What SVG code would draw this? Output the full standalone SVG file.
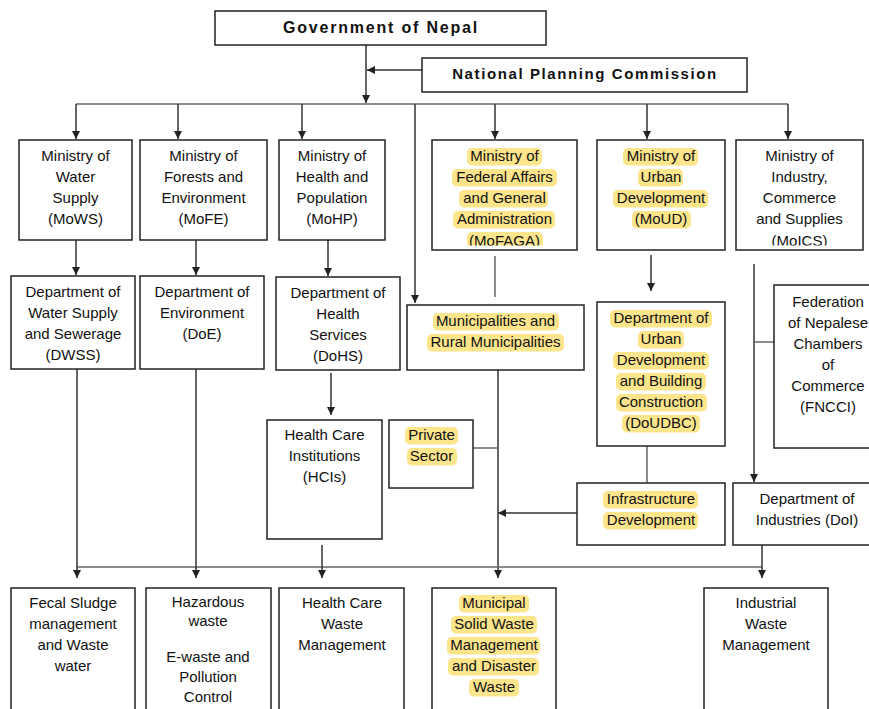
<svg xmlns="http://www.w3.org/2000/svg" width="869" height="709" viewBox="0 0 869 709">
<style>
.box{fill:#fff;stroke:#222;stroke-width:1.5}
.t{font-family:"Liberation Sans",Arial,sans-serif;font-size:15px;fill:#111;text-anchor:middle}
.b{font-family:"Liberation Sans",Arial,sans-serif;font-weight:bold;fill:#111;text-anchor:middle}
.hl{fill:#fde58c}
.c{stroke:#333;stroke-width:1.5;fill:none}
.g{stroke:#666;stroke-width:1.5;fill:none}
</style>
<defs>
<marker id="ah" viewBox="0 0 10 10" refX="10" refY="5" markerWidth="8" markerHeight="8" markerUnits="userSpaceOnUse" orient="auto"><path d="M0,0 L10,5 L0,10 z" fill="#222"/></marker>
<clipPath id="clipA"><rect x="432" y="140" width="145" height="105.5"/></clipPath>
<clipPath id="clipB"><rect x="736" y="140" width="127" height="105.5"/></clipPath>
</defs>
<rect width="869" height="709" fill="#fff"/>

<g id="connectors">
<line class="c" x1="366" y1="45" x2="366" y2="103" marker-end="url(#ah)"/>
<line class="c" x1="422" y1="70" x2="367" y2="70" marker-end="url(#ah)"/>
<line class="g" x1="76" y1="104" x2="788" y2="104"/>
<line class="c" x1="76" y1="104" x2="76" y2="139" marker-end="url(#ah)"/>
<line class="c" x1="178" y1="104" x2="178" y2="139" marker-end="url(#ah)"/>
<line class="c" x1="302" y1="104" x2="302" y2="139" marker-end="url(#ah)"/>
<line class="c" x1="495" y1="104" x2="495" y2="139" marker-end="url(#ah)"/>
<line class="c" x1="647" y1="104" x2="647" y2="139" marker-end="url(#ah)"/>
<line class="c" x1="788" y1="104" x2="788" y2="139" marker-end="url(#ah)"/>
<line class="c" x1="415" y1="104" x2="415" y2="303" marker-end="url(#ah)"/>
<line class="c" x1="76" y1="240" x2="76" y2="275" marker-end="url(#ah)"/>
<line class="c" x1="196" y1="240" x2="196" y2="275" marker-end="url(#ah)"/>
<line class="c" x1="328" y1="240" x2="328" y2="276" marker-end="url(#ah)"/>
<line class="g" x1="495" y1="256" x2="495" y2="297"/>
<line class="c" x1="651" y1="255" x2="651" y2="291" marker-end="url(#ah)"/>
<line class="c" x1="754" y1="264" x2="754" y2="482" marker-end="url(#ah)"/>
<line class="g" x1="754" y1="342" x2="774" y2="342"/>
<line class="c" x1="331" y1="373" x2="331" y2="415" marker-end="url(#ah)"/>
<line class="c" x1="498" y1="370" x2="498" y2="578" marker-end="url(#ah)"/>
<line class="g" x1="473" y1="448" x2="498" y2="448"/>
<line class="g" x1="647" y1="446" x2="647" y2="483"/>
<line class="c" x1="577" y1="513" x2="498" y2="513" marker-end="url(#ah)"/>
<line class="g" x1="77" y1="567" x2="762" y2="567"/>
<line class="c" x1="77" y1="369" x2="77" y2="578" marker-end="url(#ah)"/>
<line class="c" x1="196" y1="369" x2="196" y2="578" marker-end="url(#ah)"/>
<line class="c" x1="322" y1="545" x2="322" y2="578" marker-end="url(#ah)"/>
<line class="c" x1="762" y1="545" x2="762" y2="578" marker-end="url(#ah)"/>
</g>

<g id="gov">
<rect class="box" x="215" y="11" width="331" height="34"/>
<text class="b" x="381" y="33" font-size="16" letter-spacing="1.8">Government of Nepal</text>
</g>
<g id="npc">
<rect class="box" x="422" y="58" width="325" height="34"/>
<text class="b" x="585" y="79" font-size="15" letter-spacing="1.6">National Planning Commission</text>
</g>

<g id="mows">
<rect class="box" x="19" y="140" width="113" height="100"/>
<text class="t" x="75.5" y="161">Ministry of</text>
<text class="t" x="75.5" y="182">Water</text>
<text class="t" x="75.5" y="203">Supply</text>
<text class="t" x="75.5" y="224">(MoWS)</text>
</g>
<g id="mofe">
<rect class="box" x="140" y="140" width="127" height="100"/>
<text class="t" x="203.5" y="161">Ministry of</text>
<text class="t" x="203.5" y="182">Forests and</text>
<text class="t" x="203.5" y="203">Environment</text>
<text class="t" x="203.5" y="224">(MoFE)</text>
</g>
<g id="mohp">
<rect class="box" x="279" y="140" width="106" height="100"/>
<text class="t" x="332" y="161">Ministry of</text>
<text class="t" x="332" y="182">Health and</text>
<text class="t" x="332" y="203">Population</text>
<text class="t" x="332" y="224">(MoHP)</text>
</g>
<g id="mofaga">
<rect class="box" x="432" y="140" width="145" height="110"/>
<g clip-path="url(#clipA)">
<rect class="hl" x="467" y="148" width="75" height="17.5" rx="5"/>
<rect class="hl" x="452" y="169" width="105" height="17.5" rx="5"/>
<rect class="hl" x="459" y="190" width="89" height="17.5" rx="5"/>
<rect class="hl" x="453" y="211" width="102" height="17.5" rx="5"/>
<rect class="hl" x="467" y="232" width="76" height="17.5" rx="5"/>
<text class="t" x="504.5" y="161">Ministry of</text>
<text class="t" x="504.5" y="182">Federal Affairs</text>
<text class="t" x="504.5" y="203">and General</text>
<text class="t" x="504.5" y="224">Administration</text>
<text class="t" x="504.5" y="246">(MoFAGA)</text>
</g>
</g>
<g id="moud">
<rect class="box" x="597" y="140" width="128" height="110"/>
<rect class="hl" x="623" y="148" width="75" height="17.5" rx="5"/>
<rect class="hl" x="638" y="169" width="45" height="17.5" rx="5"/>
<rect class="hl" x="613" y="190" width="95" height="17.5" rx="5"/>
<rect class="hl" x="632" y="211" width="59" height="17.5" rx="5"/>
<text class="t" x="661" y="161">Ministry of</text>
<text class="t" x="661" y="182">Urban</text>
<text class="t" x="661" y="203">Development</text>
<text class="t" x="661" y="224">(MoUD)</text>
</g>
<g id="moics">
<rect class="box" x="736" y="140" width="127" height="110"/>
<g clip-path="url(#clipB)">
<text class="t" x="799.5" y="161">Ministry of</text>
<text class="t" x="799.5" y="182">Industry,</text>
<text class="t" x="799.5" y="203">Commerce</text>
<text class="t" x="799.5" y="224">and Supplies</text>
<text class="t" x="799.5" y="246">(MoICS)</text>
</g>
</g>

<g id="dwss">
<rect class="box" x="11" y="276" width="124" height="93"/>
<text class="t" x="73" y="297">Department of</text>
<text class="t" x="73" y="318">Water Supply</text>
<text class="t" x="73" y="339">and Sewerage</text>
<text class="t" x="73" y="360">(DWSS)</text>
</g>
<g id="doe">
<rect class="box" x="140" y="276" width="124" height="93"/>
<text class="t" x="202" y="297">Department of</text>
<text class="t" x="202" y="318">Environment</text>
<text class="t" x="202" y="339">(DoE)</text>
</g>
<g id="dohs">
<rect class="box" x="276" y="277" width="124" height="93"/>
<text class="t" x="338" y="298">Department of</text>
<text class="t" x="338" y="319">Health</text>
<text class="t" x="338" y="340">Services</text>
<text class="t" x="338" y="361">(DoHS)</text>
</g>
<g id="municipalities">
<rect class="box" x="407" y="305" width="177" height="65"/>
<rect class="hl" x="433" y="313" width="126" height="17.5" rx="5"/>
<rect class="hl" x="427" y="334" width="137" height="17.5" rx="5"/>
<text class="t" x="495.5" y="326">Municipalities and</text>
<text class="t" x="495.5" y="347">Rural Municipalities</text>
</g>
<g id="doudbc">
<rect class="box" x="597" y="302" width="128" height="144"/>
<rect class="hl" x="610" y="310" width="102" height="17.5" rx="5"/>
<rect class="hl" x="638" y="331" width="46" height="17.5" rx="5"/>
<rect class="hl" x="613" y="352" width="96" height="17.5" rx="5"/>
<rect class="hl" x="616" y="373" width="90" height="17.5" rx="5"/>
<rect class="hl" x="616" y="394" width="91" height="17.5" rx="5"/>
<rect class="hl" x="622" y="415" width="78" height="17.5" rx="5"/>
<text class="t" x="661" y="323">Department of</text>
<text class="t" x="661" y="344">Urban</text>
<text class="t" x="661" y="365">Development</text>
<text class="t" x="661" y="386">and Building</text>
<text class="t" x="661" y="407">Construction</text>
<text class="t" x="661" y="428">(DoUDBC)</text>
</g>
<g id="fncci">
<rect class="box" x="774" y="285" width="110" height="163"/>
<text class="t" x="828" y="307">Federation</text>
<text class="t" x="828" y="328">of Nepalese</text>
<text class="t" x="828" y="349">Chambers</text>
<text class="t" x="828" y="370">of</text>
<text class="t" x="828" y="391">Commerce</text>
<text class="t" x="828" y="412">(FNCCI)</text>
</g>
<g id="hcis">
<rect class="box" x="267" y="420" width="115" height="119"/>
<text class="t" x="324.5" y="440">Health Care</text>
<text class="t" x="324.5" y="461">Institutions</text>
<text class="t" x="324.5" y="482">(HCIs)</text>
</g>
<g id="private">
<rect class="box" x="389" y="420" width="84" height="68"/>
<rect class="hl" x="405" y="427" width="53" height="17.5" rx="5"/>
<rect class="hl" x="407" y="448" width="50" height="17.5" rx="5"/>
<text class="t" x="431.5" y="440">Private</text>
<text class="t" x="431.5" y="461">Sector</text>
</g>
<g id="infra">
<rect class="box" x="577" y="483" width="148" height="62"/>
<rect class="hl" x="603" y="491" width="95" height="17.5" rx="5"/>
<rect class="hl" x="603" y="512" width="95" height="17.5" rx="5"/>
<text class="t" x="651" y="504">Infrastructure</text>
<text class="t" x="651" y="525">Development</text>
</g>
<g id="doi">
<rect class="box" x="733" y="483" width="150" height="62"/>
<text class="t" x="807" y="504">Department of</text>
<text class="t" x="807" y="525">Industries (DoI)</text>
</g>

<g id="fecal">
<rect class="box" x="11" y="588" width="124" height="140"/>
<text class="t" x="73" y="608">Fecal Sludge</text>
<text class="t" x="73" y="629">management</text>
<text class="t" x="73" y="650">and Waste</text>
<text class="t" x="73" y="671">water</text>
</g>
<g id="hazardous">
<rect class="box" x="146" y="588" width="125" height="140"/>
<text class="t" x="208" y="607">Hazardous</text>
<text class="t" x="208" y="626">waste</text>
<text class="t" x="208" y="662">E-waste and</text>
<text class="t" x="208" y="682">Pollution</text>
<text class="t" x="208" y="702">Control</text>
</g>
<g id="hcwm">
<rect class="box" x="279" y="588" width="125" height="140"/>
<text class="t" x="342" y="608">Health Care</text>
<text class="t" x="342" y="629">Waste</text>
<text class="t" x="342" y="650">Management</text>
</g>
<g id="msw">
<rect class="box" x="432" y="588" width="124" height="140"/>
<rect class="hl" x="459" y="595" width="70" height="17.5" rx="5"/>
<rect class="hl" x="451" y="616" width="86" height="17.5" rx="5"/>
<rect class="hl" x="447" y="637" width="93" height="17.5" rx="5"/>
<rect class="hl" x="448" y="658" width="91" height="17.5" rx="5"/>
<rect class="hl" x="469" y="679" width="50" height="17.5" rx="5"/>
<text class="t" x="494" y="608">Municipal</text>
<text class="t" x="494" y="629">Solid Waste</text>
<text class="t" x="494" y="650">Management</text>
<text class="t" x="494" y="671">and Disaster</text>
<text class="t" x="494" y="692">Waste</text>
</g>
<g id="industrial">
<rect class="box" x="704" y="588" width="124" height="140"/>
<text class="t" x="766" y="608">Industrial</text>
<text class="t" x="766" y="629">Waste</text>
<text class="t" x="766" y="650">Management</text>
</g>
</svg>
